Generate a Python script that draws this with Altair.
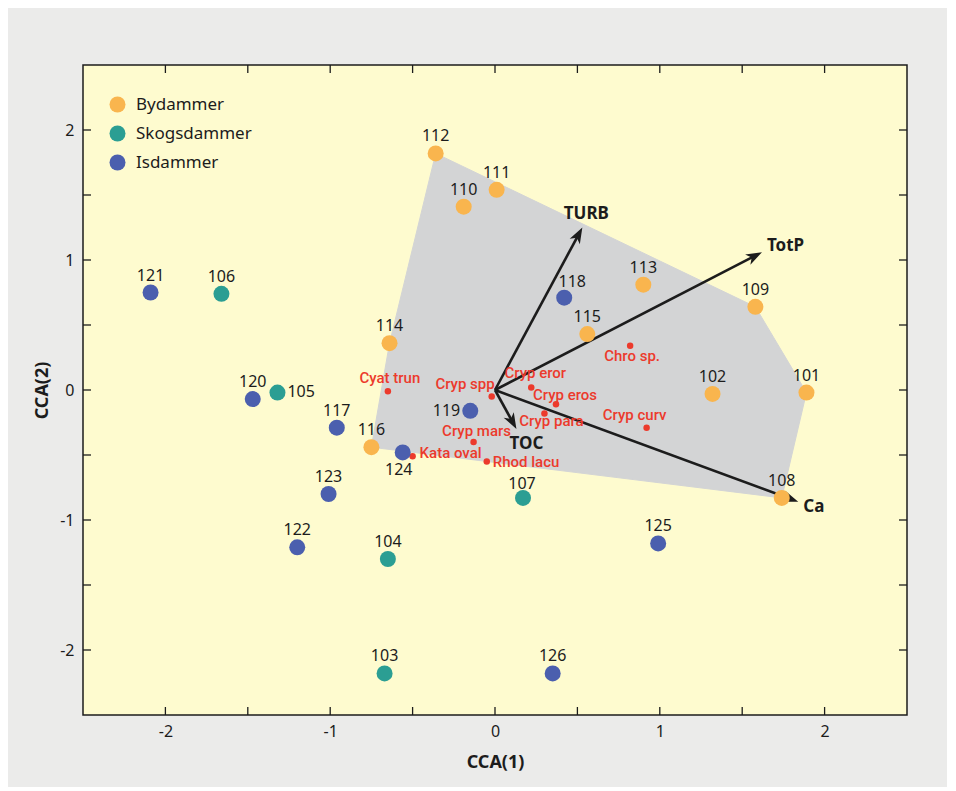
import math
import altair as alt
import pandas as pd

# ---------------- data ----------------
# Bydammer (city ponds)
by_ids = ["112", "111", "110", "113", "109", "115", "114", "102", "101", "116", "108"]
by_x = [-0.36, 0.01, -0.19, 0.90, 1.58, 0.56, -0.64, 1.32, 1.89, -0.75, 1.74]
by_y = [1.82, 1.54, 1.41, 0.81, 0.64, 0.43, 0.36, -0.03, -0.02, -0.44, -0.83]

# Skogsdammer (forest ponds)
sk_ids = ["106", "105", "107", "104", "103"]
sk_x = [-1.66, -1.32, 0.17, -0.65, -0.67]
sk_y = [0.74, -0.02, -0.83, -1.30, -2.18]

# Isdammer (ice ponds)
is_ids = ["121", "118", "120", "117", "119", "124", "123", "122", "125", "126"]
is_x = [-2.09, 0.42, -1.47, -0.96, -0.15, -0.56, -1.01, -1.20, 0.99, 0.35]
is_y = [0.75, 0.71, -0.07, -0.29, -0.16, -0.48, -0.80, -1.21, -1.18, -2.18]

# species scores
sp_names = ["Cyat trun", "Cryp spp", "Cryp eror", "Cryp eros", "Cryp para",
            "Cryp mars", "Kata oval", "Rhod lacu", "Chro sp.", "Cryp curv"]
sp_x = [-0.65, -0.02, 0.22, 0.37, 0.30, -0.13, -0.50, -0.05, 0.82, 0.92]
sp_y = [-0.01, -0.05, 0.02, -0.11, -0.18, -0.40, -0.51, -0.55, 0.34, -0.29]

# environmental vectors
env_names = ["TURB", "TotP", "Ca", "TOC"]
env_x = [0.53, 1.62, 1.84, 0.13]
env_y = [1.25, 1.06, -0.86, -0.30]

groups = ["Bydammer", "Skogsdammer", "Isdammer"]
group_colors = ["#f9b54e", "#2b9e93", "#4b5fae"]

tick_vals = [-2, -1.5, -1, -0.5, 0, 0.5, 1, 1.5, 2]
label_vals = [-2, -1, 0, 1, 2]

# ---------------- layout / style ----------------
W, H = 824, 650
XMIN, XMAX, YMIN, YMAX = -2.5, 2.5, -2.5, 2.5
SX = W / (XMAX - XMIN)
SY = H / (YMAX - YMIN)
FONT = "Noto Sans"
SPFONT = "Roboto"
INK = "#1c1c1c"
RED = "#ec3a2c"

# label placement styles (offsets in px)
site_place = {"105": "right", "119": "left", "124": "below", "118": "aboveright", "107": "abovelow"}
place_style = {
    "above": dict(dx=0, dy=-17, align="center"),
    "abovelow": dict(dx=-1, dy=-14, align="center"),
    "right": dict(dx=10, dy=-1, align="left"),
    "left": dict(dx=-10, dy=0, align="right"),
    "below": dict(dx=-4, dy=18, align="center"),
    "aboveright": dict(dx=8, dy=-16, align="center"),
}
sp_style = {
    "Cyat trun": dict(dx=2, dy=-13, align="center"),
    "Cryp spp": dict(dx=3, dy=-13, align="right"),
    "Cryp eror": dict(dx=4, dy=-14, align="center"),
    "Cryp eros": dict(dx=9, dy=-9, align="center"),
    "Cryp para": dict(dx=7, dy=8, align="center"),
    "Cryp mars": dict(dx=3, dy=-11, align="center"),
    "Kata oval": dict(dx=7, dy=-3, align="left"),
    "Rhod lacu": dict(dx=6, dy=0, align="left"),
    "Chro sp.": dict(dx=2, dy=10, align="center"),
    "Cryp curv": dict(dx=-12, dy=-13, align="center"),
}
env_style = {
    "TURB": dict(dx=4, dy=-14, align="center"),
    "TotP": dict(dx=5, dy=-6, align="left"),
    "Ca": dict(dx=5, dy=5, align="left"),
    "TOC": dict(dx=10, dy=15, align="center"),
}

# ---------------- tables ----------------
sites = pd.DataFrame({
    "id": by_ids + sk_ids + is_ids,
    "x": by_x + sk_x + is_x,
    "y": by_y + sk_y + is_y,
    "group": ["Bydammer"] * len(by_ids) + ["Skogsdammer"] * len(sk_ids) + ["Isdammer"] * len(is_ids),
})
sites["place"] = [site_place.get(i, "above") for i in sites["id"]]

species = pd.DataFrame({"name": sp_names, "x": sp_x, "y": sp_y})


# convex hull of Bydammer sites
def hull(pts):
    pts = sorted(set(pts))
    def cross(o, a, b):
        return (a[0] - o[0]) * (b[1] - o[1]) - (a[1] - o[1]) * (b[0] - o[0])
    lower, upper = [], []
    for p in pts:
        while len(lower) >= 2 and cross(lower[-2], lower[-1], p) <= 0:
            lower.pop()
        lower.append(p)
    for p in reversed(pts):
        while len(upper) >= 2 and cross(upper[-2], upper[-1], p) <= 0:
            upper.pop()
        upper.append(p)
    return lower[:-1] + upper[:-1]


hp = hull(list(zip(by_x, by_y)))
hp = hp + [hp[0]]
hull_df = pd.DataFrame({"x": [p[0] for p in hp], "y": [p[1] for p in hp], "o": list(range(len(hp)))})

# arrows: shaft end pulled back slightly so the head covers it
HEAD = 16.0
rows = []
for n, vx, vy in zip(env_names, env_x, env_y):
    px, py = vx * SX, vy * SY
    L = math.hypot(px, py)
    k = (L - HEAD * 0.5) / L
    ang = math.degrees(math.atan2(px, py)) % 360
    rows.append(dict(name=n, x0=0.0, y0=0.0, x=vx, y=vy, sx=vx * k, sy=vy * k, ang=ang))
env = pd.DataFrame(rows)

ticks = pd.DataFrame({"t": tick_vals})

# ---------------- encodings ----------------
xscale = alt.Scale(domain=[XMIN, XMAX], nice=False, zero=False)
yscale = alt.Scale(domain=[YMIN, YMAX], nice=False, zero=False)
xaxis = alt.Axis(values=label_vals, ticks=False, domain=False, grid=False,
                 labelExpr="toString(datum.value)", labelPadding=8,
                 title="CCA(1)", titlePadding=14)
yaxis = alt.Axis(values=label_vals, ticks=False, domain=False, grid=False,
                 labelExpr="toString(datum.value)", labelPadding=9,
                 title="CCA(2)", titlePadding=8)


def X(f):
    return alt.X(f, type="quantitative", scale=xscale, axis=xaxis)


def Y(f):
    return alt.Y(f, type="quantitative", scale=yscale, axis=yaxis)


layers = []

# hull
layers.append(
    alt.Chart(hull_df).mark_line(fill="#d3d4d5", stroke="#d3d4d5", strokeWidth=1, interpolate="linear")
    .encode(x=X("x"), y=Y("y"), order=alt.Order("o:Q"))
)

# inner ticks on all sides
layers.append(alt.Chart(ticks).mark_rule(color=INK, strokeWidth=1.3).encode(
    x=X("t"), y=alt.value(H), y2=alt.value(H - 8)))
layers.append(alt.Chart(ticks).mark_rule(color=INK, strokeWidth=1.3).encode(
    x=X("t"), y=alt.value(0), y2=alt.value(8)))
layers.append(alt.Chart(ticks).mark_rule(color=INK, strokeWidth=1.3).encode(
    y=Y("t"), x=alt.value(0), x2=alt.value(8)))
layers.append(alt.Chart(ticks).mark_rule(color=INK, strokeWidth=1.3).encode(
    y=Y("t"), x=alt.value(W), x2=alt.value(W - 8)))

# arrow shafts
layers.append(alt.Chart(env).mark_rule(color=INK, strokeWidth=2.6).encode(
    x=X("x0"), y=Y("y0"), x2="sx", y2="sy"))
# arrow heads
layers.append(alt.Chart(env).mark_point(
    shape="M0,0L0.72,2L0,1.45L-0.72,2Z", filled=True, size=256, color=INK, opacity=1, strokeWidth=0
).encode(x=X("x"), y=Y("y"), angle=alt.Angle("ang:Q", scale=None)))

# species dots
layers.append(alt.Chart(species).mark_circle(size=42, color=RED, opacity=1).encode(x=X("x"), y=Y("y")))

# site points
layers.append(alt.Chart(sites).mark_circle(size=256, opacity=1).encode(
    x=X("x"), y=Y("y"),
    color=alt.Color("group:N", scale=alt.Scale(domain=groups, range=group_colors),
                    legend=alt.Legend(title=None, orient="none", legendX=26, legendY=31,
                                      symbolType="circle", symbolSize=256, symbolStrokeWidth=0,
                                      symbolOpacity=1, labelFontSize=17, labelFont=FONT,
                                      labelColor=INK, labelOffset=10, rowPadding=11, padding=0)),
))

# site labels
for key, st in place_style.items():
    layers.append(alt.Chart(sites).transform_filter(alt.datum.place == key).mark_text(
        font=FONT, fontSize=16, color=INK, baseline="middle", **st
    ).encode(x=X("x"), y=Y("y"), text="id:N"))

# species labels
for n, st in sp_style.items():
    layers.append(alt.Chart(species).transform_filter(alt.datum.name == n).mark_text(
        font=SPFONT, fontSize=15, fontWeight=500, color=RED, baseline="middle", **st
    ).encode(x=X("x"), y=Y("y"), text="name:N"))

# env labels
for n, st in env_style.items():
    layers.append(alt.Chart(env).transform_filter(alt.datum.name == n).mark_text(
        font=FONT, fontSize=17, fontWeight="bold", color=INK, baseline="middle", **st
    ).encode(x=X("x"), y=Y("y"), text="name:N"))

chart = alt.layer(*layers).properties(
    width=W, height=H,
    autosize=alt.AutoSizeParams(type="none"),
    padding={"left": 75, "top": 57, "right": 40, "bottom": 72},
    background="#ebebea",
).configure_view(
    fill="#fefbcf", stroke=INK, strokeWidth=1.5,
).configure_axis(
    labelFont=FONT, labelFontSize=16, labelColor=INK,
    titleFont=FONT, titleFontSize=18, titleFontWeight="bold", titleColor=INK,
)

chart.save("out.html", embed_options={"renderer": "svg", "actions": False})
